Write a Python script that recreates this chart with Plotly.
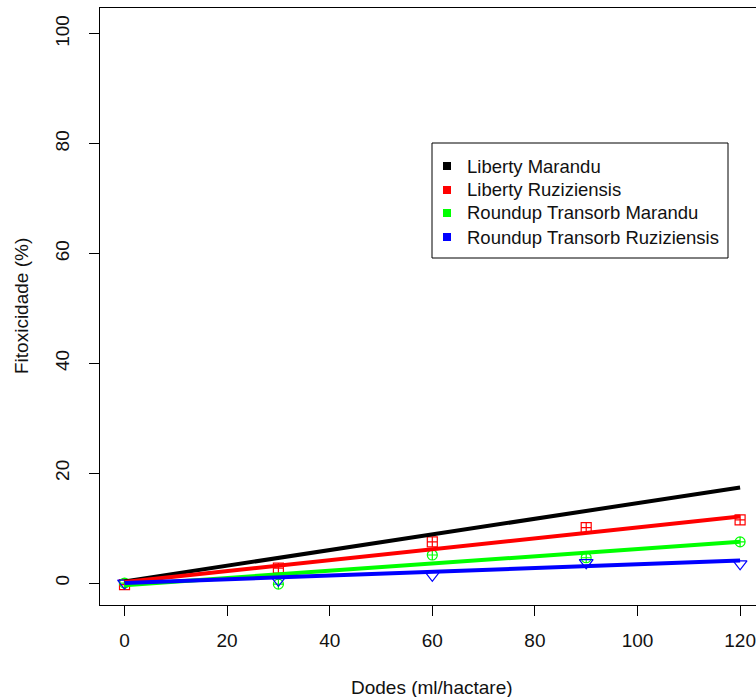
import plotly.graph_objects as go

# ---- data ----
doses = [0, 30, 60, 90, 120]
series_names = ["Liberty Marandu", "Liberty Ruziziensis",
                "Roundup Transorb Marandu", "Roundup Transorb Ruziziensis"]
colors = ["#000000", "#FF0000", "#00FF00", "#0000FF"]

# observed points (Liberty Marandu points not visible in the reference)
obs_liberty_ruz = [-0.3, 2.7, 7.5, 10.1, 11.5]
obs_roundup_mar = [0.0, -0.2, 5.1, 4.6, 7.5]
obs_roundup_ruz = [0.0, 0.5, 1.4, 3.7, 3.5]

# fitted straight lines (values at dose 0 and 120)
fit_x = [0, 120]
fit_liberty_mar = [0.3, 17.4]
fit_liberty_ruz = [0.2, 12.1]
fit_roundup_mar = [-0.4, 7.5]
fit_roundup_ruz = [0.0, 4.1]

x_ticks = [0, 20, 40, 60, 80, 100, 120]
y_ticks = [0, 20, 40, 60, 80, 100]

W, H = 756, 697
ML, MR, MT, MB = 100, 0, 8, 92
PW, PH = W - ML - MR, H - MT - MB


def px(xp):
    return (xp - ML) / PW


def py(yp):
    return (H - MB - yp) / PH


fig = go.Figure()

obs = [None, obs_liberty_ruz, obs_roundup_mar, obs_roundup_ruz]
symbols = [None, "square-cross-open", "circle-cross-open", "triangle-down-open"]
msizes = [None, 10, 10, 12]
for i in range(1, 4):
    fig.add_trace(go.Scatter(
        x=doses, y=obs[i], mode="markers", showlegend=False,
        name=series_names[i],
        marker=dict(symbol=symbols[i], size=msizes[i], color=colors[i],
                    line=dict(width=1.2, color=colors[i]))))

fits = [fit_liberty_mar, fit_liberty_ruz, fit_roundup_mar, fit_roundup_ruz]
for i in range(4):
    fig.add_trace(go.Scatter(
        x=fit_x, y=fits[i], mode="lines", showlegend=False,
        name=series_names[i],
        line=dict(color=colors[i], width=4)))

# legend (drawn on an overlay axis spanning the plot area in 0..1 units)
legend_row_y = [166, 190, 213, 237]
legend_marker_x = 447
legend_text_x = 467
fig.add_trace(go.Scatter(
    x=[px(legend_marker_x)] * 4, y=[py(v) for v in legend_row_y],
    xaxis="x2", yaxis="y2", mode="markers", showlegend=False,
    hoverinfo="skip",
    marker=dict(symbol="square", size=8, color=colors)))

font_family = "Liberation Sans, Arial, sans-serif"

annotations = [
    dict(text="Dodes (ml/hactare)", xref="paper", yref="paper",
         x=px(432), y=py(687), xanchor="center", yanchor="middle",
         showarrow=False, font=dict(size=19)),
    dict(text="Fitoxicidade (%)", xref="paper", yref="paper",
         x=px(21), y=py(306), xanchor="center", yanchor="middle",
         textangle=-90, showarrow=False, font=dict(size=19)),
]
for name, ry in zip(series_names, legend_row_y):
    annotations.append(dict(text=name, xref="paper", yref="paper",
                            x=px(legend_text_x - 2), y=py(ry),
                            xanchor="left", yanchor="middle",
                            showarrow=False, font=dict(size=18.5)))

fig.update_layout(
    width=W, height=H,
    margin=dict(l=ML, r=MR, t=MT, b=MB),
    paper_bgcolor="white", plot_bgcolor="white",
    font=dict(family=font_family, size=19, color="#111111"),
    showlegend=False,
    xaxis=dict(range=[-4.78, 123.1], tickvals=x_ticks,
               ticktext=[str(v) for v in x_ticks],
               showgrid=False, zeroline=False,
               showline=True, linecolor="black", linewidth=1, mirror=True,
               ticks="outside", ticklen=10, tickcolor="black", tickwidth=1,
               ticklabelstandoff=8),
    yaxis=dict(range=[-4.0, 104.7], tickvals=y_ticks,
               ticktext=[str(v) for v in y_ticks],
               showgrid=False, zeroline=False,
               showline=True, linecolor="black", linewidth=1, mirror=False,
               ticks="outside", ticklen=10, tickcolor="black", tickwidth=1,
               tickangle=-90, ticklabelstandoff=12),
    xaxis2=dict(overlaying="x", range=[0, 1], visible=False),
    yaxis2=dict(overlaying="y", range=[0, 1], visible=False),
    shapes=[dict(type="rect", xref="paper", yref="paper",
                 x0=px(432), x1=px(728), y0=py(258), y1=py(143),
                 line=dict(color="black", width=1), fillcolor="rgba(0,0,0,0)")],
    annotations=annotations,
)

fig.write_html("out.html")
